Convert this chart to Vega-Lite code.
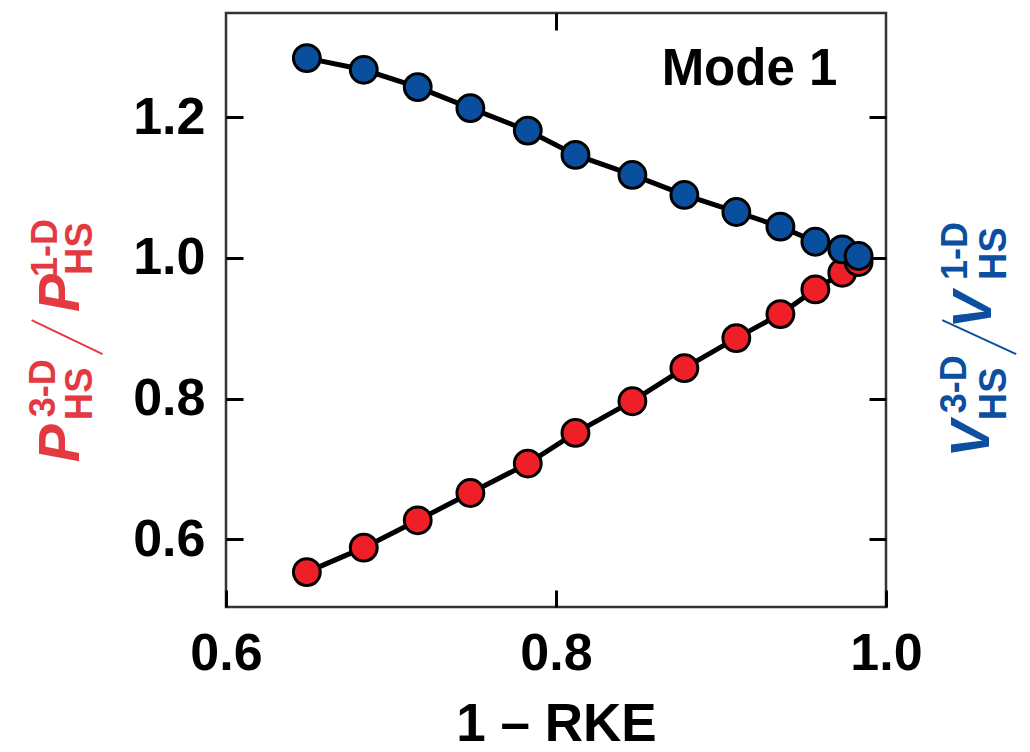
{
  "$schema": "https://vega.github.io/schema/vega-lite/v6.json",
  "autosize": {"type": "none"},
  "padding": {"left": 226, "top": 13, "right": 144, "bottom": 145},
  "width": 660,
  "height": 594,
  "background": "white",
  "config": {
    "view": {"stroke": "#333333", "strokeWidth": 2.5},
    "font": "Liberation Sans",
    "axis": {
      "grid": false,
      "domain": false,
      "tickSize": -17,
      "tickWidth": 3,
      "tickColor": "black",
      "labelFlush": false,
      "labelFont": "Liberation Sans",
      "labelFontWeight": "bold",
      "labelFontSize": 52,
      "labelColor": "black",
      "labelPadding": 38,
      "titleFont": "Liberation Sans",
      "titleFontWeight": "bold",
      "titleFontSize": 53,
      "titleColor": "black"
    }
  },
  "datasets": {
    "ratios": [
      {"rke": 0.6490, "ratio": 0.5536, "series": "P"},
      {"rke": 0.6835, "ratio": 0.5883, "series": "P"},
      {"rke": 0.7162, "ratio": 0.6272, "series": "P"},
      {"rke": 0.7481, "ratio": 0.6660, "series": "P"},
      {"rke": 0.7829, "ratio": 0.7078, "series": "P"},
      {"rke": 0.8118, "ratio": 0.7514, "series": "P"},
      {"rke": 0.8463, "ratio": 0.7964, "series": "P"},
      {"rke": 0.8778, "ratio": 0.8434, "series": "P"},
      {"rke": 0.9093, "ratio": 0.8861, "series": "P"},
      {"rke": 0.9360, "ratio": 0.9202, "series": "P"},
      {"rke": 0.9572, "ratio": 0.9553, "series": "P"},
      {"rke": 0.9735, "ratio": 0.9789, "series": "P"},
      {"rke": 0.9834, "ratio": 0.9942, "series": "P"},
      {"rke": 0.6490, "ratio": 1.2839, "series": "V"},
      {"rke": 0.6835, "ratio": 1.2673, "series": "V"},
      {"rke": 0.7162, "ratio": 1.2427, "series": "V"},
      {"rke": 0.7481, "ratio": 1.2128, "series": "V"},
      {"rke": 0.7829, "ratio": 1.1809, "series": "V"},
      {"rke": 0.8118, "ratio": 1.1464, "series": "V"},
      {"rke": 0.8463, "ratio": 1.1179, "series": "V"},
      {"rke": 0.8778, "ratio": 1.0895, "series": "V"},
      {"rke": 0.9093, "ratio": 1.0653, "series": "V"},
      {"rke": 0.9360, "ratio": 1.0444, "series": "V"},
      {"rke": 0.9572, "ratio": 1.0230, "series": "V"},
      {"rke": 0.9735, "ratio": 1.0122, "series": "V"},
      {"rke": 0.9834, "ratio": 1.0027, "series": "V"}
    ],
    "one": [{}]
  },
  "resolve": {"axis": {"x": "independent", "y": "independent"}},
  "layer": [
    {
      "data": {"name": "ratios"},
      "mark": {"type": "line", "color": "black", "strokeWidth": 5},
      "encoding": {
        "x": {"field": "rke", "type": "quantitative",
              "scale": {"domain": [0.6, 1.0], "nice": false, "zero": false},
              "axis": {"orient": "bottom", "values": [0.6, 0.8, 1.0], "format": ".1f", "title": "1 – RKE", "titlePadding": 19}},
        "y": {"field": "ratio", "type": "quantitative",
              "scale": {"domain": [0.504, 1.348], "nice": false, "zero": false},
              "axis": {"orient": "left", "values": [0.6, 0.8, 1.0, 1.2], "format": ".1f", "title": null}},
        "detail": {"field": "series"}
      }
    },
    {
      "data": {"name": "ratios"},
      "mark": {"type": "point", "shape": "circle", "filled": true, "size": 720, "stroke": "black", "strokeWidth": 3, "opacity": 1},
      "encoding": {
        "x": {"field": "rke", "type": "quantitative",
              "scale": {"domain": [0.6, 1.0], "nice": false, "zero": false},
              "axis": {"orient": "top", "values": [0.8], "labels": false, "title": null}},
        "y": {"field": "ratio", "type": "quantitative",
              "scale": {"domain": [0.504, 1.348], "nice": false, "zero": false},
              "axis": {"orient": "right", "values": [0.6, 0.8, 1.0, 1.2], "labels": false, "title": null}},
        "color": {"field": "series", "type": "nominal",
                  "scale": {"domain": ["P", "V"], "range": ["#EE1F26", "#0A4F9E"]}, "legend": null}
      }
    },
    {
      "data": {"name": "one"},
      "mark": {"type": "text", "text": "Mode 1", "fontSize": 51, "fontWeight": "bold", "align": "right", "baseline": "alphabetic", "color": "black"},
      "encoding": {
        "x": {"datum": 0.9705, "type": "quantitative", "scale": {"domain": [0.6, 1.0], "nice": false, "zero": false}, "axis": null},
        "y": {"datum": 1.246, "type": "quantitative", "scale": {"domain": [0.504, 1.348], "nice": false, "zero": false}, "axis": null}
      }
    },
    {
      "data": {"name": "one"},
      "mark": {"type": "text", "text": "P", "fontSize": 57, "fontWeight": "bold", "fontStyle": "italic", "angle": 270, "align": "left", "baseline": "alphabetic", "color": "#E33A42"},
      "encoding": {
        "x": {"datum": 0.5112, "type": "quantitative", "scale": {"domain": [0.6, 1.0], "nice": false, "zero": false}, "axis": null},
        "y": {"datum": 0.7097, "type": "quantitative", "scale": {"domain": [0.504, 1.348], "nice": false, "zero": false}, "axis": null}
      }
    },
    {
      "data": {"name": "one"},
      "mark": {"type": "text", "text": "3-D", "fontSize": 36, "fontWeight": "bold", "angle": 270, "align": "left", "baseline": "alphabetic", "color": "#E33A42"},
      "encoding": {
        "x": {"datum": 0.4961, "type": "quantitative", "scale": {"domain": [0.6, 1.0], "nice": false, "zero": false}, "axis": null},
        "y": {"datum": 0.7737, "type": "quantitative", "scale": {"domain": [0.504, 1.348], "nice": false, "zero": false}, "axis": null}
      }
    },
    {
      "data": {"name": "one"},
      "mark": {"type": "text", "text": "HS", "fontSize": 38, "fontWeight": "bold", "angle": 270, "align": "left", "baseline": "alphabetic", "color": "#E33A42"},
      "encoding": {
        "x": {"datum": 0.5185, "type": "quantitative", "scale": {"domain": [0.6, 1.0], "nice": false, "zero": false}, "axis": null},
        "y": {"datum": 0.7694, "type": "quantitative", "scale": {"domain": [0.504, 1.348], "nice": false, "zero": false}, "axis": null}
      }
    },
    {
      "data": {"name": "one"},
      "mark": {"type": "rule", "strokeWidth": 2, "color": "#E33A42"},
      "encoding": {
        "x": {"datum": 0.5252, "type": "quantitative", "scale": {"domain": [0.6, 1.0], "nice": false, "zero": false}, "axis": null},
        "y": {"datum": 0.8633, "type": "quantitative", "scale": {"domain": [0.504, 1.348], "nice": false, "zero": false}, "axis": null},
        "x2": {"datum": 0.4822}, "y2": {"datum": 0.9116}
      }
    },
    {
      "data": {"name": "one"},
      "mark": {"type": "text", "text": "P", "fontSize": 57, "fontWeight": "bold", "fontStyle": "italic", "angle": 270, "align": "left", "baseline": "alphabetic", "color": "#E33A42"},
      "encoding": {
        "x": {"datum": 0.5112, "type": "quantitative", "scale": {"domain": [0.6, 1.0], "nice": false, "zero": false}, "axis": null},
        "y": {"datum": 0.9230, "type": "quantitative", "scale": {"domain": [0.504, 1.348], "nice": false, "zero": false}, "axis": null}
      }
    },
    {
      "data": {"name": "one"},
      "mark": {"type": "text", "text": "1-D", "fontSize": 36, "fontWeight": "bold", "angle": 270, "align": "left", "baseline": "alphabetic", "color": "#E33A42"},
      "encoding": {
        "x": {"datum": 0.4973, "type": "quantitative", "scale": {"domain": [0.6, 1.0], "nice": false, "zero": false}, "axis": null},
        "y": {"datum": 0.9728, "type": "quantitative", "scale": {"domain": [0.504, 1.348], "nice": false, "zero": false}, "axis": null}
      }
    },
    {
      "data": {"name": "one"},
      "mark": {"type": "text", "text": "HS", "fontSize": 38, "fontWeight": "bold", "angle": 270, "align": "left", "baseline": "alphabetic", "color": "#E33A42"},
      "encoding": {
        "x": {"datum": 0.5185, "type": "quantitative", "scale": {"domain": [0.6, 1.0], "nice": false, "zero": false}, "axis": null},
        "y": {"datum": 0.9757, "type": "quantitative", "scale": {"domain": [0.504, 1.348], "nice": false, "zero": false}, "axis": null}
      }
    },
    {
      "data": {"name": "one"},
      "mark": {"type": "text", "text": "V", "fontSize": 55, "fontWeight": "bold", "fontStyle": "italic", "angle": 270, "align": "left", "baseline": "alphabetic", "color": "#0C4EA0"},
      "encoding": {
        "x": {"datum": 1.0626, "type": "quantitative", "scale": {"domain": [0.6, 1.0], "nice": false, "zero": false}, "axis": null},
        "y": {"datum": 0.7168, "type": "quantitative", "scale": {"domain": [0.504, 1.348], "nice": false, "zero": false}, "axis": null}
      }
    },
    {
      "data": {"name": "one"},
      "mark": {"type": "text", "text": "3-D", "fontSize": 36, "fontWeight": "bold", "angle": 270, "align": "left", "baseline": "alphabetic", "color": "#0C4EA0"},
      "encoding": {
        "x": {"datum": 1.0487, "type": "quantitative", "scale": {"domain": [0.6, 1.0], "nice": false, "zero": false}, "axis": null},
        "y": {"datum": 0.7794, "type": "quantitative", "scale": {"domain": [0.504, 1.348], "nice": false, "zero": false}, "axis": null}
      }
    },
    {
      "data": {"name": "one"},
      "mark": {"type": "text", "text": "HS", "fontSize": 38, "fontWeight": "bold", "angle": 270, "align": "left", "baseline": "alphabetic", "color": "#0C4EA0"},
      "encoding": {
        "x": {"datum": 1.0729, "type": "quantitative", "scale": {"domain": [0.6, 1.0], "nice": false, "zero": false}, "axis": null},
        "y": {"datum": 0.7694, "type": "quantitative", "scale": {"domain": [0.504, 1.348], "nice": false, "zero": false}, "axis": null}
      }
    },
    {
      "data": {"name": "one"},
      "mark": {"type": "rule", "strokeWidth": 2, "color": "#0C4EA0"},
      "encoding": {
        "x": {"datum": 1.0789, "type": "quantitative", "scale": {"domain": [0.6, 1.0], "nice": false, "zero": false}, "axis": null},
        "y": {"datum": 0.8633, "type": "quantitative", "scale": {"domain": [0.504, 1.348], "nice": false, "zero": false}, "axis": null},
        "x2": {"datum": 1.0341}, "y2": {"datum": 0.9116}
      }
    },
    {
      "data": {"name": "one"},
      "mark": {"type": "text", "text": "V", "fontSize": 55, "fontWeight": "bold", "fontStyle": "italic", "angle": 270, "align": "left", "baseline": "alphabetic", "color": "#0C4EA0"},
      "encoding": {
        "x": {"datum": 1.0638, "type": "quantitative", "scale": {"domain": [0.6, 1.0], "nice": false, "zero": false}, "axis": null},
        "y": {"datum": 0.9002, "type": "quantitative", "scale": {"domain": [0.504, 1.348], "nice": false, "zero": false}, "axis": null}
      }
    },
    {
      "data": {"name": "one"},
      "mark": {"type": "text", "text": "1-D", "fontSize": 36, "fontWeight": "bold", "angle": 270, "align": "left", "baseline": "alphabetic", "color": "#0C4EA0"},
      "encoding": {
        "x": {"datum": 1.0493, "type": "quantitative", "scale": {"domain": [0.6, 1.0], "nice": false, "zero": false}, "axis": null},
        "y": {"datum": 0.9686, "type": "quantitative", "scale": {"domain": [0.504, 1.348], "nice": false, "zero": false}, "axis": null}
      }
    },
    {
      "data": {"name": "one"},
      "mark": {"type": "text", "text": "HS", "fontSize": 38, "fontWeight": "bold", "angle": 270, "align": "left", "baseline": "alphabetic", "color": "#0C4EA0"},
      "encoding": {
        "x": {"datum": 1.0729, "type": "quantitative", "scale": {"domain": [0.6, 1.0], "nice": false, "zero": false}, "axis": null},
        "y": {"datum": 0.9686, "type": "quantitative", "scale": {"domain": [0.504, 1.348], "nice": false, "zero": false}, "axis": null}
      }
    }
  ]
}
